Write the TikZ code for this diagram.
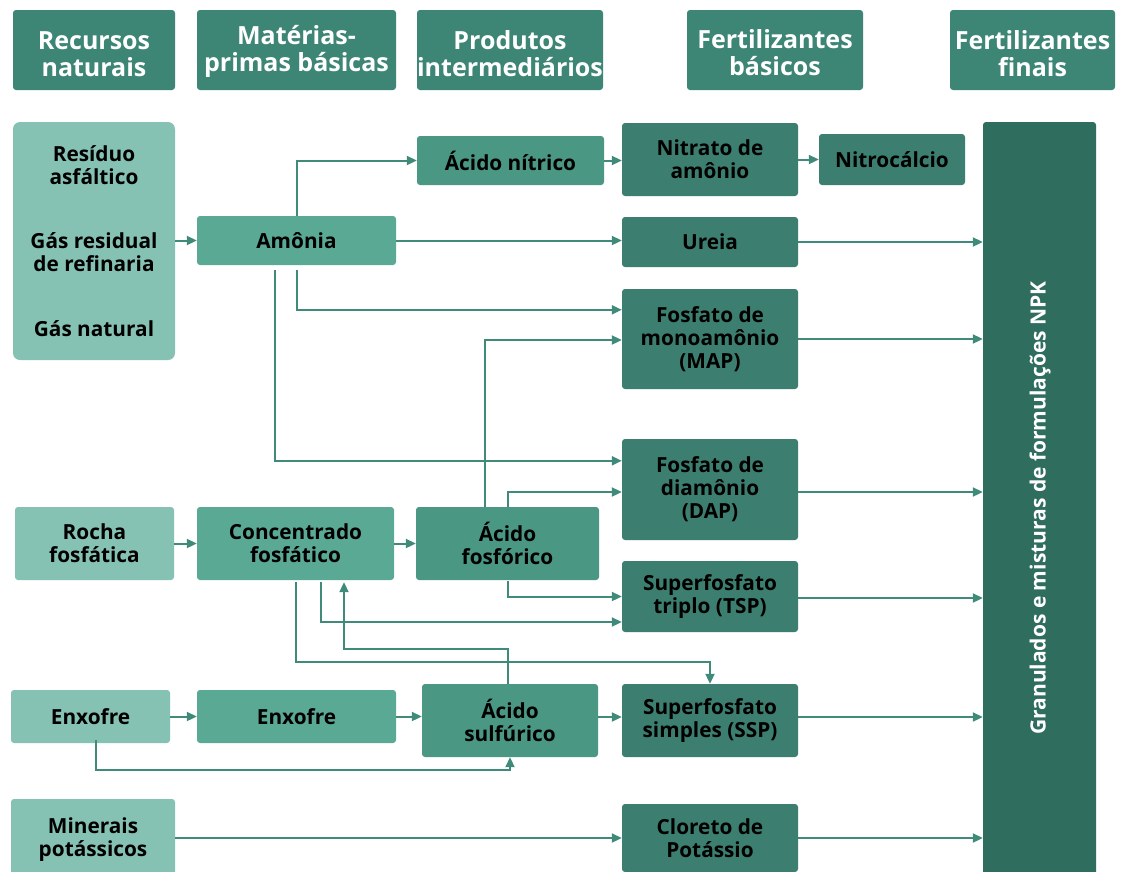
\documentclass[tikz,border=0pt]{standalone}
\usepackage{fontspec}
\setmainfont{Open Sans}
\usetikzlibrary{arrows.meta}

\definecolor{hdrcol}{HTML}{3D8575}
\definecolor{rescol}{HTML}{86C2B3}
\definecolor{rawcol}{HTML}{5AA995}
\definecolor{midcol}{HTML}{4A9784}
\definecolor{fercol}{HTML}{3C7F70}
\definecolor{npkcol}{HTML}{2F6D5E}
\definecolor{arrcol}{HTML}{3F8A78}

\newcommand\bodyfont{\bfseries\fontsize{20.8}{23}\selectfont}
\newcommand\hdrfont{\bfseries\fontsize{25}{27}\selectfont}

\tikzset{
  box/.style={rectangle, rounded corners=3pt, inner sep=0pt, align=center,
    font=\bodyfont, text=black},
  hdr/.style={box, fill=hdrcol, minimum height=80pt},
  hdrtxt/.style={align=center, inner sep=0pt, text=white, font=\hdrfont},
  res/.style={box, fill=rescol},
  raw/.style={box, fill=rawcol},
  mid/.style={box, fill=midcol},
  fer/.style={box, fill=fercol, minimum width=176pt},
  lbl/.style={align=center, font=\bodyfont, text=black, inner sep=0pt},
  arr/.style={draw=arrcol, line width=2pt,
    -{Triangle[length=10pt,width=9pt]}}
}

\begin{document}
\begin{tikzpicture}[x=1pt, y=-1pt]
\clip (0,0) rectangle (1122,871);
\fill[white] (0,0) rectangle (1122,871);

% column headings
\node[hdr, minimum width=162pt] (h1) at (94,50) {};
\node[hdr, minimum width=199pt] (h2) at (296.5,50) {};
\node[hdr, minimum width=186pt] (h3) at (510,50) {};
\node[hdr, minimum width=176pt] (h4) at (775,50) {};
\node[hdr, minimum width=165pt] (h5) at (1032.5,50) {};
\node[hdrtxt] (t1) at ([yshift=-4pt]h1.center) {Recursos\\naturais};
\node[hdrtxt] (t2) at ([yshift=-1pt]h2.center) {Matérias-\\primas básicas};
\node[hdrtxt] (t3) at ([yshift=-4pt]h3.center) {Produtos\\intermediários};
\node[hdrtxt] (t4) at ([yshift=-3pt]h4.center) {Fertilizantes\\básicos};
\node[hdrtxt] (t5) at ([yshift=-4pt]h5.center) {Fertilizantes\\finais};

% natural resources
\node[res, rounded corners=7pt, minimum width=162pt, minimum height=238pt] (res1) at (94,241) {};
\node[lbl] (r1a) at (94,165) {Resíduo\\asfáltico};
\node[lbl] (r1b) at (94,252) {Gás residual\\de refinaria};
\node[lbl] (r1c) at (94,329) {Gás natural};
\node[res, minimum width=159pt, minimum height=73pt] (rocha) at (94.5,543.5) {Rocha\\fosfática};
\node[res, minimum width=159pt, minimum height=53pt] (enxr) at (90.5,716.5) {Enxofre};
\node[res, minimum width=164pt, minimum height=82pt] (minp) at (93,840) {Minerais\\potássicos};

% basic raw materials
\node[raw, minimum width=199pt, minimum height=49pt] (amonia) at (296.5,240.5) {Amônia};
\node[raw, minimum width=197pt, minimum height=73pt] (conc) at (295.5,543.5) {Concentrado\\fosfático};
\node[raw, minimum width=199pt, minimum height=53pt] (enxm) at (296.5,716.5) {Enxofre};

% intermediate products
\node[mid, minimum width=187pt, minimum height=49pt] (anit) at (510.5,160.5) {Ácido nítrico};
\node[mid, minimum width=183pt, minimum height=73pt] (afosf) at (507.5,543.5) {Ácido\\fosfórico};
\node[mid, minimum width=176pt, minimum height=73pt] (asulf) at (510,720.5) {Ácido\\sulfúrico};

% basic fertilizers
\node[fer, minimum height=73pt] (nitam) at (710,159.5) {Nitrato de\\amônio};
\node[fer, minimum width=146pt, minimum height=51pt] (nitroc) at (892,159.5) {Nitrocálcio};
\node[fer, minimum height=50pt] (ureia) at (710,242) {Ureia};
\node[fer, minimum height=100pt] (map) at (710,339) {Fosfato de\\monoamônio\\(MAP)};
\node[fer, minimum height=101pt] (dap) at (710,489.5) {Fosfato de\\diamônio\\(DAP)};
\node[fer, minimum height=71pt] (tsp) at (710,596.5) {Superfosfato\\triplo (TSP)};
\node[fer, minimum height=73pt] (ssp) at (710,720.5) {Superfosfato\\simples (SSP)};
\node[fer, minimum height=68pt] (kcl) at (710,838) {Cloreto de\\Potássio};

% final fertilizers
\node[box, fill=npkcol, minimum width=113pt, minimum height=770pt] (npk) at (1039.5,507) {};
\node[lbl, text=white, rotate=90, font=\bfseries\fontsize{21}{24}\selectfont] (npkt) at (1040,508)
  {Granulados e misturas de formulações NPK};

% nitrogen chain
\draw[arr] (res1.east |- amonia.west) -- (amonia.west);
\draw[arr] (amonia.north) |- (anit.west);
\draw[arr] (anit.east) -- (anit.east -| nitam.west);
\draw[arr] (nitam.east) -- (nitam.east -| nitroc.west);
\draw[arr] (amonia.east) -- (amonia.east -| ureia.west);
\draw[arr] ([yshift=-5pt]amonia.south) |- ([yshift=-21pt]map.north west);
\draw[arr] ([xshift=-21.5pt,yshift=-5pt]amonia.south) |- ([yshift=-22pt]dap.north west);

% phosphate chain
\draw[arr] (rocha.east) -- (conc.west);
\draw[arr] (conc.east) -- (afosf.west);
\draw[arr] ([xshift=-22.5pt]afosf.north) |- ([yshift=-1pt]map.west);
\draw[arr] (afosf.north) |- ([yshift=-2.5pt]dap.west);
\draw[arr] ([yshift=-1pt]afosf.south) |- (tsp.west);
\draw[arr] ([xshift=25.5pt,yshift=-2pt]conc.south) |- ([yshift=-25.5pt]tsp.west);
\draw[arr] ([xshift=-2pt]asulf.north) -- ++(0,-35) -| ([xshift=48.5pt,yshift=-2pt]conc.south);
\draw[arr] ([yshift=-2pt]conc.south) -- ++(0,80) -| (ssp.north);

% sulfur chain
\draw[arr] (enxr.east) -- (enxm.west);
\draw[arr] (enxm.east) -- (enxm.east -| asulf.west);
\draw[arr] ([yshift=3.5pt]asulf.east) -- ([yshift=3.5pt]asulf.east -| ssp.west);
\draw[arr] ([xshift=5.5pt,yshift=3pt]enxr.south) -- ++(0,30) -| (asulf.south);

% potash chain
\draw[arr] (minp.east |- kcl.west) -- (kcl.west);

% into the final box
\draw[arr] (ureia.east) -- (ureia.east -| npk.west);
\draw[arr] (map.east) -- (map.east -| npk.west);
\draw[arr] ([yshift=-2.5pt]dap.east) -- ([yshift=-2.5pt]dap.east -| npk.west);
\draw[arr] ([yshift=-1.5pt]tsp.east) -- ([yshift=-1.5pt]tsp.east -| npk.west);
\draw[arr] ([yshift=3.5pt]ssp.east) -- ([yshift=3.5pt]ssp.east -| npk.west);
\draw[arr] (kcl.east) -- (kcl.east -| npk.west);
\end{tikzpicture}
\end{document}
